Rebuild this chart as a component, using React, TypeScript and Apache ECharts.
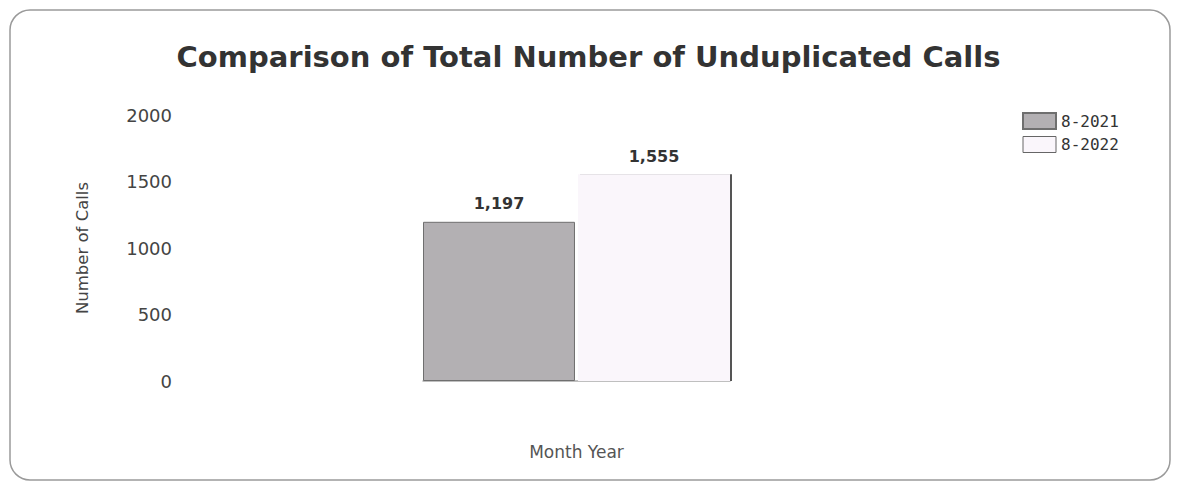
import React, { useEffect, useRef } from "react";
import * as echarts from "echarts";

const categories = ["8-2022"];
const seriesNames = ["8-2021", "8-2022"];
const values2021 = [1197];
const values2022 = [1555];
const yTicks = { min: 0, max: 2000, interval: 500 };

export default function App() {
  const ref = useRef<HTMLDivElement>(null);
  useEffect(() => {
    const chart = echarts.init(ref.current!, null, { renderer: "svg" });
    const labelStyle = {
      show: true,
      position: "top" as const,
      distance: 10,
      fontFamily: "DejaVu Sans",
      fontWeight: "bold" as const,
      fontSize: 16,
      color: "#333",
      formatter: (p: any) => Number(p.value).toLocaleString("en-US"),
    };
    chart.setOption({
      animation: false,
      backgroundColor: "#fff",
      title: {
        text: "Comparison of Total Number of Unduplicated Calls",
        left: "center",
        top: 37,
        textStyle: {
          fontFamily: "DejaVu Sans",
          fontWeight: "bold",
          fontSize: 29,
          color: "#333",
        },
      },
      legend: {
        orient: "vertical",
        left: 1017,
        top: 107,
        itemWidth: 33,
        itemHeight: 16,
        itemGap: 6,
        icon: "rect",
        data: [
          { name: seriesNames[0] },
          {
            name: seriesNames[1],
            itemStyle: { color: "#faf6fb", borderColor: "#666", borderWidth: 1 },
          },
        ],
        textStyle: { fontFamily: "DejaVu Sans Mono", fontSize: 16, color: "#333" },
      },
      grid: { left: 423, right: 447, top: 115, bottom: 104 },
      xAxis: {
        type: "category",
        data: categories,
        name: "Month Year",
        nameLocation: "middle",
        nameGap: 62,
        nameTextStyle: { fontFamily: "DejaVu Sans", fontSize: 17, color: "#555" },
        axisLine: { lineStyle: { color: "#aaa", width: 1.5 } },
        axisTick: { show: false },
        axisLabel: { show: false },
      },
      yAxis: {
        type: "value",
        min: yTicks.min,
        max: yTicks.max,
        interval: yTicks.interval,
        name: "Number of Calls",
        nameLocation: "middle",
        nameGap: 332,
        nameTextStyle: { fontFamily: "DejaVu Sans", fontSize: 16.5, color: "#444" },
        axisLine: { show: false },
        axisTick: { show: false },
        splitLine: { show: false },
        axisLabel: {
          margin: 251,
          fontFamily: "DejaVu Sans",
          fontSize: 18,
          color: "#444",
          formatter: (v: number) => String(v),
        },
      },
      series: [
        {
          name: seriesNames[0],
          type: "bar",
          data: values2021,
          barGap: "2%",
          barCategoryGap: "0%",
          itemStyle: { color: "#b3b0b3", borderColor: "#6f6f6f", borderWidth: 1 },
          label: labelStyle,
        },
        {
          name: seriesNames[1],
          type: "bar",
          data: values2022,
          itemStyle: {
            color: "#faf6fb",
            shadowColor: "#555",
            shadowOffsetX: 2,
            shadowBlur: 0,
          },
          label: labelStyle,
        },
      ],
      graphic: [
        {
          type: "rect",
          shape: { x: 10, y: 10, width: 1160, height: 470, r: 20 },
          style: { fill: "none", stroke: "#9a9a9a", lineWidth: 1.5 },
          silent: true,
        },
      ],
    });
    return () => chart.dispose();
  }, []);
  return (
    <div
      ref={ref}
      style={{ position: "fixed", left: 0, top: 0, width: 1177, height: 485 }}
    />
  );
}
